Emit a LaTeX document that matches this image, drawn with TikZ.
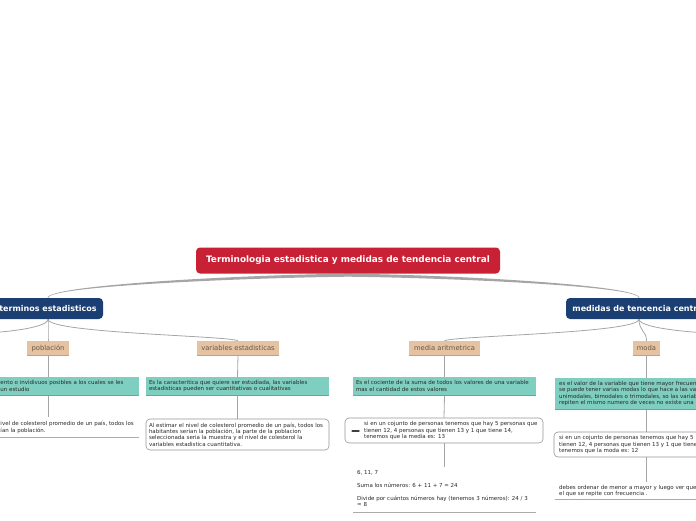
\documentclass[tikz,border=0pt]{standalone}
\usepackage{fontspec}
\setmainfont{DejaVu Sans}
\usetikzlibrary{calc,backgrounds}
\definecolor{rootred}{RGB}{200,32,52}
\definecolor{lvblue}{RGB}{27,63,114}
\definecolor{tagtan}{RGB}{229,194,162}
\definecolor{tagul}{RGB}{190,162,138}
\definecolor{tagtext}{RGB}{105,88,72}
\definecolor{tealc}{RGB}{126,207,192}
\definecolor{tealul}{RGB}{98,168,155}
\definecolor{conncol}{RGB}{165,165,165}
\definecolor{boxline}{RGB}{150,150,150}
\definecolor{txtc}{RGB}{40,40,40}
\begin{document}
\begin{tikzpicture}[x=1pt,y=-1pt,
  rootbox/.style={fill=rootred, rounded corners=4pt, text=white, font=\fontsize{8.9}{10}\bfseries\selectfont, minimum width=304pt, minimum height=26pt, inner sep=0},
  lvbox/.style={fill=lvblue, rounded corners=4pt, text=white, font=\fontsize{8}{9}\bfseries\selectfont, minimum height=21pt, inner sep=0},
  tagbox/.style={fill=tagtan, text=tagtext, font=\fontsize{6.8}{8}\selectfont, minimum height=14pt, inner sep=0},
  tealbox/.style={fill=tealc, inner xsep=3pt, inner ysep=0pt, text=txtc, font=\fontsize{5.5}{6.6}\selectfont, align=left},
  wbox/.style={draw=boxline, line width=0.6pt, rounded corners=4pt, fill=white, inner xsep=3pt, inner ysep=2pt, text=txtc, font=\fontsize{5.5}{6.4}\selectfont, align=left},
  txt/.style={font=\fontsize{5.5}{6.4}\selectfont, text=txtc, align=left, inner sep=0},
  conn/.style={draw=conncol, line width=0.8pt},
  uline/.style={draw=boxline!80, line width=0.6pt},
  tagline/.style={draw=tagul, line width=0.7pt},
  tealline/.style={draw=tealul, line width=0.8pt}
]
\useasboundingbox (0,0) rectangle (696,520);

% level 0 and 1
\node[rootbox] (root) at (348,260.5) {Terminologia estadistica y medidas de tendencia central};
\node[lvbox, minimum width=110pt] (t1) at (48,308.5) {terminos estadisticos};
\node[lvbox, minimum width=146pt] (t2) at (639,308.5) {medidas de tencencia central};

% tags
\node[tagbox, minimum width=42pt] (pob) at (48,348) {población};
\node[tagbox, minimum width=82pt] (var) at (238,348) {variables estadisticas};
\node[tagbox, minimum width=71pt] (med) at (444.5,348) {media aritmetrica};
\node[tagbox, minimum width=27pt] (moda) at (646.5,348) {moda};
\foreach \n in {pob,var,med,moda}{\draw[tagline] (\n.south west) -- (\n.south east);}

% teal boxes
\node[tealbox, minimum width=184pt, minimum height=18pt] (pobT) at (47,386) {};
\node[txt, font=\fontsize{5.5}{6.6}\selectfont, anchor=west] (pobTt) at (0.3,386) {ento o invidivuos posibles a los cuales se les\\un estudio};
\node[tealbox, minimum width=183pt, minimum height=18pt, text width=177pt] (varT) at (237.5,386) {Es la caracteritica que quiere ser estudiada, las variables\\estadisticas pueden ser cuantitativas o cualitativas};
\node[tealbox, minimum width=183pt, minimum height=18pt, text width=177pt] (medT) at (444.5,386) {Es el cociente de la suma de todos los valores de una variable\\mas el cantidad de estos valores};
\node[tealbox, minimum width=184pt, minimum height=31pt] (modaT) at (647,393.5) {};
\node[txt, font=\fontsize{5.5}{6.6}\selectfont, anchor=west] (modaTt) at (559,393.5) {es el valor de la variable que tiene mayor frecuen\\se puede tener varias modas lo que hace a las va\\unimodales, bimodales o trimodales, so las variab\\repiten el mismo numero de veces no existe una};
\foreach \n in {pobT,varT,medT,modaT}{\draw[tealline] (\n.south west) -- (\n.south east);}

% white boxes
\node[wbox, minimum width=183pt, minimum height=31pt, text width=177pt] (varW) at (237.5,434.5) {Al estimar el nivel de colesterol promedio de un país, todos los\\habitantes serian la población, la parte de la poblacion\\seleccionada seria la muestra y el nivel de colesterol la\\variables estadistica cuantitativa.};
\node[wbox, minimum width=198pt, minimum height=25pt] (medW) at (444,430.5) {};
\node[fill=black!75, minimum width=8pt, minimum height=1.8pt, inner sep=0, rounded corners=0.5pt] (icon) at (355.5,431) {};
\node[txt, anchor=west] (medWt) at (364,430.5) {si en un cojunto de personas tenemos que hay 5 personas que\\tienen 12, 4 personas que tienen 13 y 1 que tiene 14,\\tenemos que la media es: 13};
\node[wbox, minimum width=186pt, minimum height=25pt] (modaW) at (647,444.5) {};
\node[txt, anchor=west] (modaWt) at (559,444.5) {si en un cojunto de personas tenemos que hay 5\\tienen 12, 4 personas que tienen 13 y 1 que tiene\\tenemos que la moda es: 12};

% bottom notes
\node[txt, anchor=north west, inner ysep=4pt] (pobN) at (0.3,417) {ivel de colesterol promedio de un país, todos los\\ían la población.};
\node[txt, anchor=north west, inner ysep=3pt] (medN) at (357,467) {6, 11, 7\\[6.5pt]Suma los números: 6 + 11 + 7 = 24\\[6.5pt]Divide por cuántos números hay (tenemos 3 números): 24 / 3\\= 8};
\node[txt, anchor=north west, inner ysep=3pt] (modaN) at (559,482) {debes ordenar de menor a mayor y luego ver que\\el que se repite con frecuencia .};

\coordinate (u1) at (0,437);
\coordinate (u2) at (0,512);
\coordinate (u3) at (0,499);
\draw[uline] (pobT.west |- u1) -- (pobT.east |- u1);
\draw[uline] (medT.west |- u2) -- (medT.east |- u2);
\draw[uline] (modaT.west |- u3) -- (modaT.east |- u3);

\coordinate (L1) at (-40,334);
\coordinate (R1) at (736,334);

\begin{pgfonlayer}{background}
% tapered root connectors
\fill[conncol] (root.south) .. controls +(-100,1) and +(0,-13) .. ($(t1.north)+(-0.4,0)$) -- ($(t1.north)+(0.4,0)$) .. controls +(0,-12) and +(-95,1) .. ($(root.south)+(0,3)$) -- cycle;
\fill[conncol] (root.south) .. controls +(100,1) and +(0,-13) .. ($(t2.north)+(0.4,0)$) -- ($(t2.north)+(-0.4,0)$) .. controls +(0,-12) and +(95,1) .. ($(root.south)+(0,3)$) -- cycle;
% level 1 connectors
\draw[conn] (t1.south) .. controls +(0,8) and +(0,-8) .. (pob.north);
\draw[conn] (t1.south) .. controls +(0,14) and +(-8,-5) .. (var.north);
\draw[conn] (t1.south) .. controls +(0,10) and +(30,0) .. (L1);
\draw[conn] (t2.south) .. controls +(0,14) and +(8,-5) .. (med.north);
\draw[conn] (t2.south) .. controls +(0,12) and +(0,-10) .. (moda.north);
\draw[conn] (t2.south) .. controls +(0,10) and +(-30,0) .. (R1);
% vertical connectors
\draw[conn] (pob.south) -- (pobT.north -| pob.south);
\draw[conn] (var.south) -- (varT.north);
\draw[conn] (med.south) -- (medT.north);
\draw[conn] (moda.south) -- (modaT.north -| moda.south);
\draw[conn] (pobT.south -| pob.south) -- (pobN.north -| pob.south);
\draw[conn] (varT.south) -- (varW.north);
\draw[conn] (medT.south) -- (medW.north);
\draw[conn] (modaT.south -| moda.south) -- (modaW.north -| moda.south);
\draw[conn] (medW.south) -- (medN.north -| medW.south);
\draw[conn] (modaW.south -| moda.south) -- (modaN.north -| moda.south);
\end{pgfonlayer}
\end{tikzpicture}
\end{document}
